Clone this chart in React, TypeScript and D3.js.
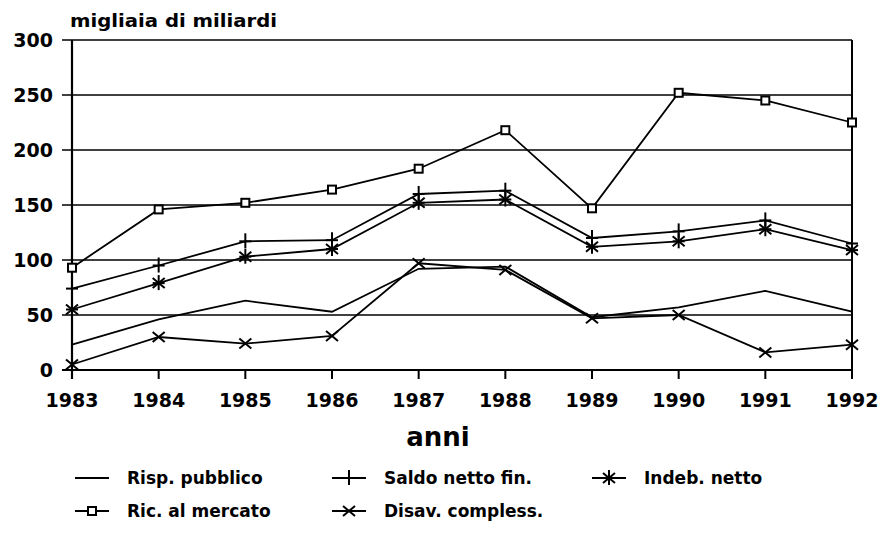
import { useRef, useEffect } from 'react';
import * as d3 from 'd3';

const years = ['1983', '1984', '1985', '1986', '1987', '1988', '1989', '1990', '1991', '1992'];
const yTicks = [0, 50, 100, 150, 200, 250, 300];

const rispPubblico = [23, 46, 63, 53, 92, 94, 48, 57, 72, 53];
const saldoNettoFin = [74, 95, 117, 118, 160, 163, 120, 126, 136, 115];
const indebNetto = [55, 79, 103, 110, 152, 155, 112, 117, 128, 109];
const ricMercato = [93, 146, 152, 164, 183, 218, 147, 252, 245, 225];
const disavCompless = [5, 30, 24, 31, 97, 91, 47, 50, 16, 23];

const seriesList = [
    { name: 'Risp. pubblico', values: rispPubblico, marker: 'none' },
    { name: 'Saldo netto fin.', values: saldoNettoFin, marker: 'plus' },
    { name: 'Indeb. netto', values: indebNetto, marker: 'star' },
    { name: 'Ric. al mercato', values: ricMercato, marker: 'square' },
    { name: 'Disav. compless.', values: disavCompless, marker: 'cross' },
];

const FONT = '"DejaVu Sans", sans-serif';

// disegna un marcatore nella posizione data
function drawMarker(g: any, type: string, cx: number, cy: number) {
    const s = g.append('g').attr('transform', `translate(${cx},${cy})`)
        .attr('stroke', '#000').attr('fill', 'none').attr('stroke-width', 2);
    if (type === 'plus' || type === 'star') {
        s.append('line').attr('x1', 0).attr('x2', 0).attr('y1', -8).attr('y2', 7);
        s.append('line').attr('x1', -6).attr('x2', 6).attr('y1', 0).attr('y2', 0);
    }
    if (type === 'star' || type === 'cross') {
        s.append('line').attr('x1', -6).attr('x2', 6).attr('y1', -5).attr('y2', 5);
        s.append('line').attr('x1', -6).attr('x2', 6).attr('y1', 5).attr('y2', -5);
    }
    if (type === 'square') {
        s.append('rect').attr('x', -4).attr('y', -4).attr('width', 8).attr('height', 8)
            .attr('fill', '#fff');
    }
}

export default function App() {
    const svgRef = useRef<SVGSVGElement>(null);

    useEffect(() => {
        const svg = d3.select(svgRef.current);
        svg.selectAll('*').remove();

        const x = d3.scalePoint().domain(years).range([72, 852]);
        const y = d3.scaleLinear().domain([0, 300]).range([370, 40]);

        const g = svg.append('g');

        // griglia orizzontale
        g.selectAll('.grid')
            .data(yTicks.filter(t => t > 0))
            .enter()
            .append('line')
            .attr('x1', 62)
            .attr('x2', 852)
            .attr('y1', d => y(d))
            .attr('y2', d => y(d))
            .attr('stroke', '#000')
            .attr('stroke-width', 1.6);

        // assi
        g.append('line').attr('x1', 62).attr('x2', 852).attr('y1', y(0)).attr('y2', y(0))
            .attr('stroke', '#000').attr('stroke-width', 2.2);
        g.append('line').attr('x1', 72).attr('x2', 72).attr('y1', y(300)).attr('y2', y(0) + 9)
            .attr('stroke', '#000').attr('stroke-width', 2.2);
        g.append('line').attr('x1', 852).attr('x2', 852).attr('y1', y(300)).attr('y2', y(0) + 9)
            .attr('stroke', '#000').attr('stroke-width', 2);

        // tick asse x
        g.selectAll('.xtick')
            .data(years)
            .enter()
            .append('line')
            .attr('x1', d => x(d)!)
            .attr('x2', d => x(d)!)
            .attr('y1', y(0))
            .attr('y2', y(0) + 9)
            .attr('stroke', '#000')
            .attr('stroke-width', 2);

        // etichette asse y
        g.selectAll('.ylabel')
            .data(yTicks)
            .enter()
            .append('text')
            .attr('x', 53)
            .attr('y', d => y(d))
            .attr('dy', '0.36em')
            .attr('text-anchor', 'end')
            .style('font-family', FONT)
            .style('font-weight', 'bold')
            .style('font-size', '19px')
            .text(d => d);

        // etichette asse x
        g.selectAll('.xlabel')
            .data(years)
            .enter()
            .append('text')
            .attr('x', d => x(d)!)
            .attr('y', 407)
            .attr('text-anchor', 'middle')
            .style('font-family', FONT)
            .style('font-weight', 'bold')
            .style('font-size', '19px')
            .text(d => d);

        g.append('text')
            .attr('x', 70)
            .attr('y', 27)
            .attr('textLength', 207)
            .attr('lengthAdjust', 'spacingAndGlyphs')
            .style('font-family', FONT)
            .style('font-weight', 'bold')
            .style('font-size', '17px')
            .text('migliaia di miliardi');

        g.append('text')
            .attr('x', 438)
            .attr('y', 446)
            .attr('text-anchor', 'middle')
            .style('font-family', FONT)
            .style('font-weight', 'bold')
            .style('font-size', '26px')
            .text('anni');

        // linee delle serie
        const line = d3.line<number>()
            .x((d, i) => x(years[i])!)
            .y(d => y(d));

        seriesList.forEach(s => {
            g.append('path')
                .datum(s.values)
                .attr('d', line)
                .attr('fill', 'none')
                .attr('stroke', '#000')
                .attr('stroke-width', 1.8);
            s.values.forEach((v, i) => drawMarker(g, s.marker, x(years[i])!, y(v)));
        });

        // legenda
        const legendPos = [
            [75, 478], [332, 478], [592, 478],
            [75, 511], [332, 511],
        ];
        seriesList.forEach((s, i) => {
            const [lx, ly] = legendPos[i];
            const lg = svg.append('g').attr('transform', `translate(${lx},${ly})`);
            lg.append('line').attr('x1', 0).attr('x2', 34).attr('y1', 0).attr('y2', 0)
                .attr('stroke', '#000').attr('stroke-width', 2);
            drawMarker(lg, s.marker, 17, 0);
            lg.append('text')
                .attr('x', 52)
                .attr('y', 0)
                .attr('dy', '0.36em')
                .style('font-family', FONT)
                .style('font-weight', 'bold')
                .style('font-size', '17px')
                .text(s.name);
        });
    }, []);

    return (
        <svg ref={svgRef} width={880} height={538}
            style={{ position: 'absolute', left: 0, top: 0, display: 'block', background: '#fff' }}></svg>
    );
}
